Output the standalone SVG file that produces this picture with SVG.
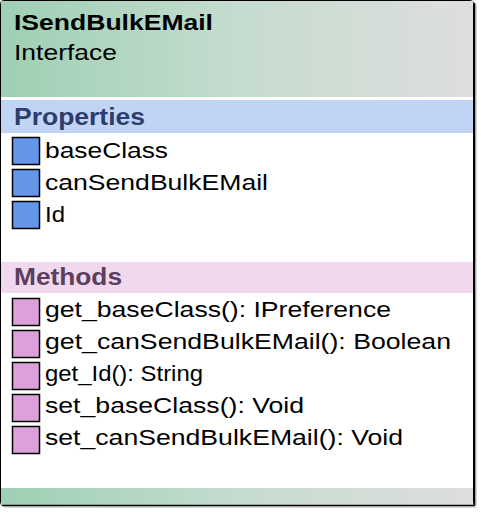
<svg xmlns="http://www.w3.org/2000/svg" width="481" height="512" viewBox="0 0 481 512">
<defs>
<linearGradient id="hdr" x1="0" y1="0" x2="1" y2="0">
<stop offset="0" stop-color="#9ed0b3"/>
<stop offset="0.5" stop-color="#c5dccf"/>
<stop offset="1" stop-color="#dedede"/>
</linearGradient>
<style>
text{font-family:"Liberation Sans",Arial,sans-serif;font-size:22px;fill:#000}
.title{font-weight:bold;font-size:22px}
.sec{font-weight:bold;font-size:23px}
.prop{fill:#6496e8;stroke:#000;stroke-width:1.5}
.meth{fill:#dea0da;stroke:#000;stroke-width:1.5}
</style>
</defs>
<g id="shadow">
<rect x="3" y="3" width="474" height="505" rx="3" fill="#d8d8d8"/>
</g>
<g id="node-ISendBulkEMail">
<rect x="0.5" y="0.5" width="473" height="505" rx="3" fill="#fff" stroke="#000" stroke-width="1"/>
<rect x="1" y="1" width="472" height="96" fill="url(#hdr)"/>
<text x="14" y="30" class="title" textLength="199" lengthAdjust="spacingAndGlyphs">ISendBulkEMail</text>
<text x="14" y="60" textLength="103" lengthAdjust="spacingAndGlyphs">Interface</text>
<rect x="1" y="100" width="472" height="33" fill="#c1d4f4"/>
<text x="14" y="125" class="sec" style="fill:#2c3d6c" textLength="131" lengthAdjust="spacingAndGlyphs">Properties</text>
<rect x="12.5" y="137.5" width="27" height="27" class="prop"/>
<text x="45" y="158" textLength="123" lengthAdjust="spacingAndGlyphs">baseClass</text>
<rect x="12.5" y="169.5" width="27" height="27" class="prop"/>
<text x="45" y="190" textLength="223" lengthAdjust="spacingAndGlyphs">canSendBulkEMail</text>
<rect x="12.5" y="201.5" width="27" height="27" class="prop"/>
<text x="45" y="222" textLength="20" lengthAdjust="spacingAndGlyphs">Id</text>
<rect x="1" y="262" width="472" height="31" fill="#f0d8ef"/>
<text x="14" y="285" class="sec" style="fill:#5c3f5c" textLength="108" lengthAdjust="spacingAndGlyphs">Methods</text>
<rect x="12.5" y="298.5" width="27" height="27" class="meth"/>
<text x="45" y="317" textLength="346" lengthAdjust="spacingAndGlyphs">get_baseClass(): IPreference</text>
<rect x="12.5" y="330.5" width="27" height="27" class="meth"/>
<text x="45" y="349" textLength="406" lengthAdjust="spacingAndGlyphs">get_canSendBulkEMail(): Boolean</text>
<rect x="12.5" y="362.5" width="27" height="27" class="meth"/>
<text x="45" y="381" textLength="158" lengthAdjust="spacingAndGlyphs">get_Id(): String</text>
<rect x="12.5" y="394.5" width="27" height="27" class="meth"/>
<text x="45" y="413" textLength="259" lengthAdjust="spacingAndGlyphs">set_baseClass(): Void</text>
<rect x="12.5" y="426.5" width="27" height="27" class="meth"/>
<text x="45" y="445" textLength="358" lengthAdjust="spacingAndGlyphs">set_canSendBulkEMail(): Void</text>
<rect x="1" y="488" width="472" height="17" fill="url(#hdr)"/>
<path d="M474.5 3 V505.5 M2 505.5 H474.5" fill="none" stroke="#000" stroke-width="1.5"/>
</g>
<g id="connectors"/>
</svg>
